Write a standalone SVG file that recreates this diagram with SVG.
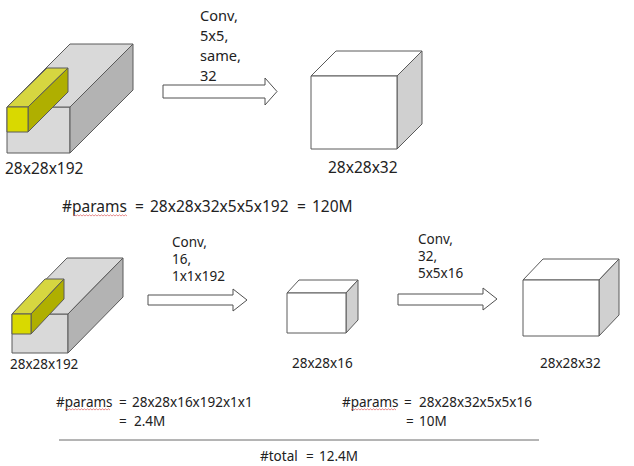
<svg xmlns="http://www.w3.org/2000/svg" width="634" height="466" viewBox="0 0 634 466">
<style>
.t{font-family:"Noto Sans","Open Sans","DejaVu Sans",sans-serif;fill:#222}
.L{font-size:15.5px}
.M{font-size:14.6px}
.S{font-size:13.5px}
.e{stroke:#5a5a5a;stroke-width:1;stroke-linejoin:round}
.gf{fill:#d9d9d9}
.gr{fill:#b3b3b3}
.yf{fill:#d9d900}
.yt{fill:#d6d640}
.yr{fill:#afaf00}
.w{fill:#ffffff}
.c{fill:#d0d0d0}
.arr{fill:#ffffff;stroke:#505050;stroke-width:1}
.sq{fill:none;stroke:#e07070;stroke-width:0.8}
</style>
<rect width="634" height="466" fill="#ffffff"/>

<g id="input-volume-1">
<polygon class="gf e" points="7,107 70,107 70,153 7,153"/>
<polygon class="gf e" points="7,107 70,44 133,44 70,107"/>
<polygon class="gr e" points="70,107 133,44 133,90 70,153"/>
<polygon class="yt e" points="7,107 47,68 68,68 28,107"/>
<polygon class="yr e" points="28,107 68,68 68,92 28,132"/>
<polygon class="yf e" points="7,107 28,107 28,132 7,132"/>
<text class="t L" x="5" y="174">28x28x192</text>
</g>

<g id="output-volume-1">
<polygon class="w e" points="311,76 397,76 422,51 336,51"/>
<polygon class="c e" points="397,76 422,51 422,124 397,149"/>
<rect class="w e" x="311" y="76" width="86" height="73"/>
<text class="t L" x="328" y="173">28x28x32</text>
</g>

<g id="input-volume-2">
<polygon class="gf e" points="12,314 68,314 68,353 12,353"/>
<polygon class="gf e" points="12,314 67,258 123,258 68,314"/>
<polygon class="gr e" points="68,314 123,258 123,297 68,353"/>
<polygon class="yt e" points="12,314 45,279 64,279 31,314"/>
<polygon class="yr e" points="31,314 64,279 64,299 31,334"/>
<polygon class="yf e" points="12,314 31,314 31,334 12,334"/>
<text class="t S" x="10" y="369">28x28x192</text>
</g>

<g id="mid-volume">
<polygon class="w e" points="287,293 346,293 358,280 299,280"/>
<polygon class="c e" points="346,293 358,280 358,320 346,333"/>
<rect class="w e" x="287" y="293" width="59" height="40"/>
<text class="t S" x="292" y="368">28x28x16</text>
</g>

<g id="output-volume-2">
<polygon class="w e" points="523,280 599,280 619,259 543,259"/>
<polygon class="c e" points="599,280 619,259 619,315 599,336"/>
<rect class="w e" x="523" y="280" width="76" height="56"/>
<text class="t S" x="540" y="368">28x28x32</text>
</g>

<g id="connectors">
<polygon class="arr" points="163,85 265,85 265,78 277,91.5 265,105 265,98 163,98"/>
<polygon class="arr" points="148,295 233,295 233,289 247,300 233,311 233,305 148,305"/>
<polygon class="arr" points="398,294 483,294 483,288 497,299 483,310 483,305 398,305"/>
</g>

<g id="labels">
<text class="t M" x="200" y="21">Conv,</text>
<text class="t M" x="200" y="41">5x5,</text>
<text class="t M" x="200" y="61">same,</text>
<text class="t M" x="200" y="81">32</text>

<text class="t S" x="172" y="247">Conv,</text>
<text class="t S" x="172" y="264">16,</text>
<text class="t S" x="172" y="281">1x1x192</text>

<text class="t S" x="418" y="244">Conv,</text>
<text class="t S" x="418" y="261">32,</text>
<text class="t S" x="418" y="278">5x5x16</text>

<text class="t L" x="62" y="212">#params</text>
<text class="t L" x="135" y="212">=</text>
<text class="t L" x="150" y="212">28x28x32x5x5x192</text>
<text class="t L" x="297" y="212">=</text>
<text class="t L" x="312" y="212">120M</text>
<path class="sq" d="M73,216 l1.5,-1.2 l1.5,1.2 l1.5,-1.2 l1.5,1.2 l1.5,-1.2 l1.5,1.2 l1.5,-1.2 l1.5,1.2 l1.5,-1.2 l1.5,1.2 l1.5,-1.2 l1.5,1.2 l1.5,-1.2 l1.5,1.2 l1.5,-1.2 l1.5,1.2 l1.5,-1.2 l1.5,1.2 l1.5,-1.2 l1.5,1.2 l1.5,-1.2 l1.5,1.2 l1.5,-1.2 l1.5,1.2 l1.5,-1.2 l1.5,1.2 l1.5,-1.2 l1.5,1.2 l1.5,-1.2 l1.5,1.2 l1.5,-1.2 l1.5,1.2 l1.5,-1.2 l1.5,1.2 l1.5,-1.2 l1.5,1.2"/>

<text class="t S" x="56" y="407">#params</text>
<text class="t S" x="119" y="407">=</text>
<text class="t S" x="132" y="407">28x28x16x192x1x1</text>
<text class="t S" x="119" y="426">=</text>
<text class="t S" x="134" y="426">2.4M</text>
<path class="sq" d="M65,410 l1.5,-1.2 l1.5,1.2 l1.5,-1.2 l1.5,1.2 l1.5,-1.2 l1.5,1.2 l1.5,-1.2 l1.5,1.2 l1.5,-1.2 l1.5,1.2 l1.5,-1.2 l1.5,1.2 l1.5,-1.2 l1.5,1.2 l1.5,-1.2 l1.5,1.2 l1.5,-1.2 l1.5,1.2 l1.5,-1.2 l1.5,1.2 l1.5,-1.2 l1.5,1.2 l1.5,-1.2 l1.5,1.2 l1.5,-1.2 l1.5,1.2 l1.5,-1.2 l1.5,1.2 l1.5,-1.2 l1.5,1.2"/>

<text class="t S" x="342" y="407">#params</text>
<text class="t S" x="404" y="407">=</text>
<text class="t S" x="419" y="407">28x28x32x5x5x16</text>
<text class="t S" x="406" y="426">=</text>
<text class="t S" x="419" y="426">10M</text>
<path class="sq" d="M351,410 l1.5,-1.2 l1.5,1.2 l1.5,-1.2 l1.5,1.2 l1.5,-1.2 l1.5,1.2 l1.5,-1.2 l1.5,1.2 l1.5,-1.2 l1.5,1.2 l1.5,-1.2 l1.5,1.2 l1.5,-1.2 l1.5,1.2 l1.5,-1.2 l1.5,1.2 l1.5,-1.2 l1.5,1.2 l1.5,-1.2 l1.5,1.2 l1.5,-1.2 l1.5,1.2 l1.5,-1.2 l1.5,1.2 l1.5,-1.2 l1.5,1.2 l1.5,-1.2 l1.5,1.2 l1.5,-1.2 l1.5,1.2"/>

<line x1="59" y1="440" x2="539" y2="440" stroke="#6a6a6a" stroke-width="1"/>
<text class="t S" x="260" y="461">#total</text>
<text class="t S" x="306" y="461">=</text>
<text class="t S" x="319" y="461">12.4M</text>
</g>
</svg>
